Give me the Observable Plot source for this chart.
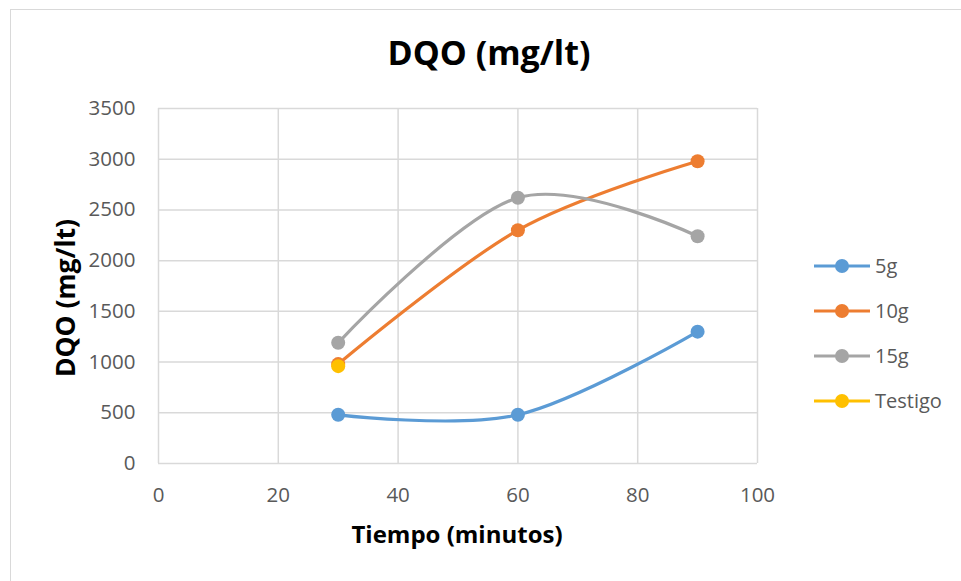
<!DOCTYPE html>
<html>
<head>
<meta charset="utf-8">
<script src="https://cdn.jsdelivr.net/npm/d3@7"></script>
<script src="https://cdn.jsdelivr.net/npm/@observablehq/plot@0.6"></script>
<style>
  html, body { margin: 0; padding: 0; background: #fff; }
  #wrap { position: relative; width: 961px; height: 581px; overflow: hidden; font-family: "Open Sans", sans-serif; }
  #frame { position: absolute; left: 10px; top: 9px; width: 1000px; height: 700px; border-left: 1.5px solid #d9d9d9; border-top: 1.5px solid #d9d9d9; }
  #title { position: absolute; left: 0; width: 978px; top: 35px; text-align: center; font-weight: 700; font-size: 34px; color: #000; line-height: 1; }
  #xtitle { position: absolute; left: 0; width: 914px; top: 522px; text-align: center; font-weight: 700; font-size: 24px; color: #000; line-height: 1; }
  #ytitle { position: absolute; left: 65px; top: 298px; transform: translate(-50%, -50%) rotate(-90deg); white-space: nowrap; font-weight: 700; font-size: 26.5px; color: #000; line-height: 1; }
  #legend { position: absolute; left: 813px; top: 243px; }
  .item { display: flex; align-items: center; height: 45px; font-size: 20px; color: #595959; }
  .item svg { margin-right: 4px; }
  #plot { position: absolute; left: 0; top: 0; }
</style>
</head>
<body>
<div id="wrap">
  <div id="frame"></div>
  <div id="plot"></div>
  <div id="title">DQO (mg/lt)</div>
  <div id="ytitle">DQO (mg/lt)</div>
  <div id="xtitle">Tiempo (minutos)</div>
  <div id="legend"></div>
</div>
<script>
const series = ["5g", "10g", "15g", "Testigo"];
const colors = ["#5B9BD5", "#ED7D31", "#A5A5A5", "#FFC000"];
const tiempo = [30, 60, 90];
const dqo5g = [480, 480, 1300];
const dqo10g = [980, 2300, 2980];
const dqo15g = [1190, 2620, 2240];
const tiempoTestigo = [30];
const dqoTestigo = [960];
const xTicks = [0, 20, 40, 60, 80, 100];
const yTicks = [0, 500, 1000, 1500, 2000, 2500, 3000, 3500];

const data = [];
tiempo.forEach((t, i) => data.push({serie: "5g", t, v: dqo5g[i]}));
tiempo.forEach((t, i) => data.push({serie: "10g", t, v: dqo10g[i]}));
tiempo.forEach((t, i) => data.push({serie: "15g", t, v: dqo15g[i]}));
tiempoTestigo.forEach((t, i) => data.push({serie: "Testigo", t, v: dqoTestigo[i]}));

const chart = Plot.plot({
  width: 961,
  height: 581,
  marginLeft: 158,
  marginRight: 204,
  marginTop: 108,
  marginBottom: 118,
  style: {fontFamily: "'Open Sans', sans-serif", background: "transparent"},
  x: {domain: [0, 100]},
  y: {domain: [0, 3500]},
  color: {domain: series, range: colors},
  marks: [
    Plot.gridX(xTicks, {stroke: "#d9d9d9", strokeOpacity: 1, strokeWidth: 1.5}),
    Plot.gridY(yTicks, {stroke: "#d9d9d9", strokeOpacity: 1, strokeWidth: 1.5}),
    Plot.axisX(xTicks, {tickSize: 0, tickPadding: 24, fontSize: 20.5, fill: "#595959", label: null, tickFormat: d => String(d)}),
    Plot.axisY(yTicks, {tickSize: 0, tickPadding: 23, fontSize: 20.5, fill: "#595959", label: null, tickFormat: d => String(d)}),
    Plot.line(data, {x: "t", y: "v", z: "serie", stroke: "serie", strokeWidth: 3.2, curve: "cardinal"}),
    Plot.dot(data, {x: "t", y: "v", fill: "serie", r: 7, stroke: "none"})
  ]
});
document.getElementById("plot").appendChild(chart);

const legend = document.getElementById("legend");
series.forEach((s, i) => {
  const div = document.createElement("div");
  div.className = "item";
  div.innerHTML = `<svg width="58" height="16"><line x1="1" x2="57" y1="8" y2="8" stroke="${colors[i]}" stroke-width="3.2"/><circle cx="29" cy="8" r="7" fill="${colors[i]}"/></svg><span>${s}</span>`;
  legend.appendChild(div);
});
</script>
</body>
</html>
